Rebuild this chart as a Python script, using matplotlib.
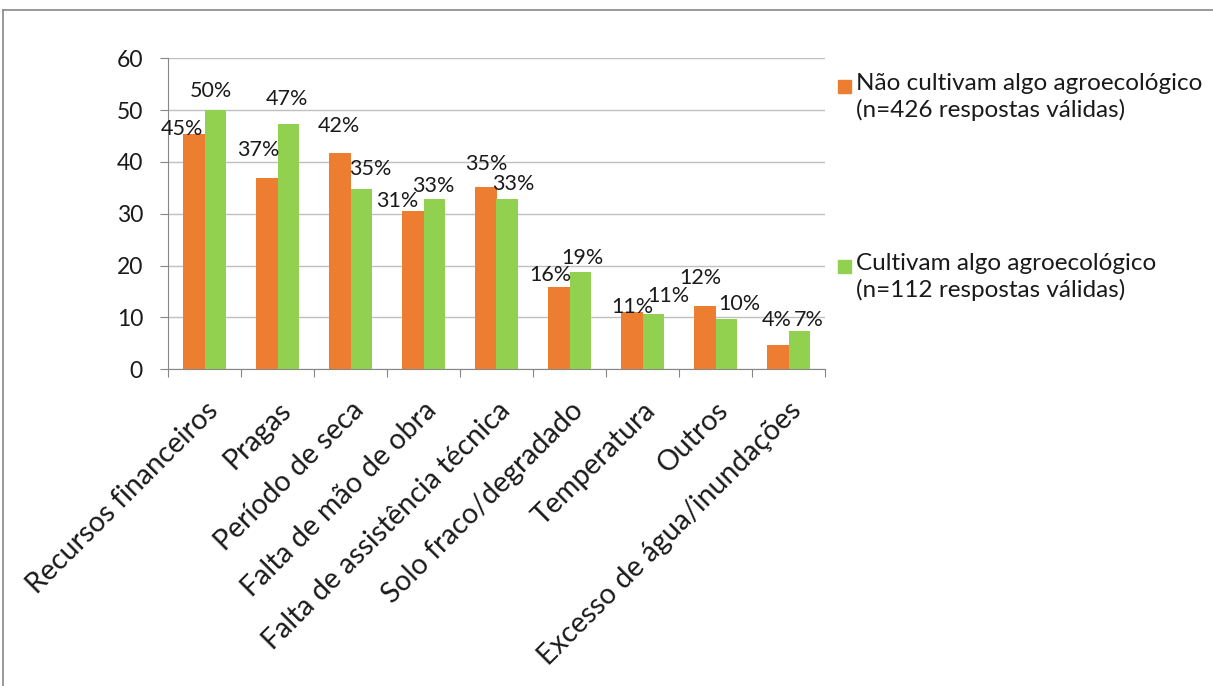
import matplotlib.pyplot as plt
from matplotlib.lines import Line2D
from matplotlib.patches import Rectangle
import numpy as np

plt.rcParams["font.family"] = ["Lato", "DejaVu Sans"]

categories = [
    "Recursos financeiros", "Pragas", "Período de seca", "Falta de mão de obra",
    "Falta de assistência técnica", "Solo fraco/degradado", "Temperatura",
    "Outros", "Excesso de água/inundações",
]
nao_cultivam = [45.4, 37.0, 41.8, 30.5, 35.2, 15.9, 11.0, 12.2, 4.6]
cultivam = [50.0, 47.3, 34.7, 32.9, 32.9, 18.8, 10.7, 9.7, 7.3]
labels_nao = ["45%", "37%", "42%", "31%", "35%", "16%", "11%", "12%", "4%"]
labels_cult = ["50%", "47%", "35%", "33%", "33%", "19%", "11%", "10%", "7%"]
legend_nao = "Não cultivam algo agroecológico\n(n=426 respostas válidas)"
legend_cult = "Cultivam algo agroecológico\n(n=112 respostas válidas)"

# label offsets (pixels from bar top centre), as placed in the original
off_nao = [(-12, 5), (-9, 28), (-1, 27), (-16, 10), (0, 23), (-9, 12), (0, 5), (-5, 28), (-1, 25)]
off_cult = [(-4, 19), (-1, 25), (9, 20), (-1, 13), (6, 15), (2, 14), (15, 18), (13, 15), (10, 11)]

orange = "#ED7D31"
green = "#92D050"
W, H = 1213, 686

fig = plt.figure(figsize=(W / 100, H / 100), dpi=100)
ax = fig.add_axes([168 / W, 1 - 369.3 / H, (825 - 168) / W, (369.3 - 58.3) / H])

x = np.arange(len(categories))
bw = 0.29
b1 = ax.bar(x - bw / 2, nao_cultivam, bw, color=orange, zorder=3)
b2 = ax.bar(x + bw / 2, cultivam, bw, color=green, zorder=3)

for bars, labs, offs in [(b1, labels_nao, off_nao), (b2, labels_cult, off_cult)]:
    for b, lab, (dx, dy) in zip(bars, labs, offs):
        ax.annotate(lab, (b.get_x() + b.get_width() / 2, b.get_height()),
                    xytext=(dx, dy), textcoords="offset pixels",
                    ha="center", va="center", fontsize=15.5, color="#1a1a1a", zorder=4)

ax.set_xlim(-0.5, len(categories) - 0.5)
ax.set_ylim(0, 60)
ax.set_yticks(range(0, 61, 10))
ax.yaxis.grid(True, color="#c0c0c0", linewidth=1, zorder=0)
for s in ["top", "right"]:
    ax.spines[s].set_visible(False)
for s in ["left", "bottom"]:
    ax.spines[s].set_color("#868686")

ax.set_xticks(np.arange(-0.5, len(categories), 1), minor=False)
ax.set_xticklabels([])
ax.set_xticks(x, minor=True)
ax.set_xticklabels(categories, minor=True, rotation=45, ha="right", va="top",
                   rotation_mode="anchor", fontsize=20.5, color="#1a1a1a")
ax.tick_params(axis="x", which="major", length=6, color="#868686")
ax.tick_params(axis="x", which="minor", length=0, pad=20)
ax.tick_params(axis="y", length=6, color="#868686", labelsize=16.5, labelcolor="#1a1a1a", pad=12)

# legend drawn as in the original (marker beside the first line)
for y_px, col, txt in [(86.5, orange, legend_nao), (266.5, green, legend_cult)]:
    fig.add_artist(Rectangle((838 / W, 1 - (y_px + 6.5) / H), 13 / W, 13 / H,
                             transform=fig.transFigure, color=col))
    fig.text(856 / W, 1 - (y_px - 13) / H, txt, ha="left", va="top",
             fontsize=17.5, color="#1a1a1a", linespacing=1.25)

# outer chart border
fig.add_artist(Line2D([3 / W, 1], [1 - 10 / H, 1 - 10 / H], color="#888888", linewidth=1.2))
fig.add_artist(Line2D([3 / W, 3 / W], [0, 1 - 10 / H], color="#888888", linewidth=1.2))

fig.savefig("out.png", dpi=100)
